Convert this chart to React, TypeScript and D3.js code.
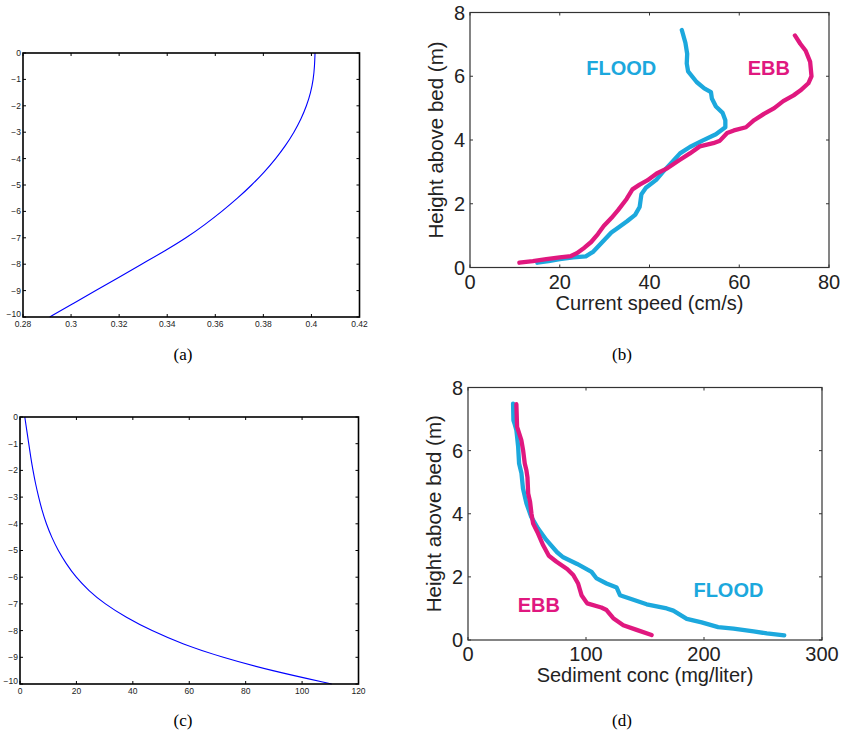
import React from "react";
import * as d3 from "d3";

// ---- model profiles (a) and (c): depth 0 .. -10 ----
const depthLevels = [0, -0.5, -1, -1.5, -2, -2.5, -3, -3.5, -4, -4.5, -5, -5.5, -6, -6.5, -7, -7.5, -8, -8.5, -9, -9.5, -10];
const speedModel = [0.4015, 0.4013, 0.4008, 0.3997, 0.398, 0.3957, 0.3928, 0.3893, 0.3852, 0.3805, 0.3752, 0.3693, 0.3628, 0.3557, 0.348, 0.339, 0.3293, 0.3198, 0.3103, 0.3007, 0.2911];
const concModel = [1.7, 2.4, 3.1, 3.8, 4.6, 5.5, 6.6, 7.8, 9.3, 11.2, 13.5, 16.4, 19.8, 24.3, 30, 37.5, 46.5, 57.5, 71.5, 89, 110.5];

const xTicksA = [0.28, 0.3, 0.32, 0.34, 0.36, 0.38, 0.4, 0.42];
const xTicksC = [0, 20, 40, 60, 80, 100, 120];
const depthTicks = [0, -1, -2, -3, -4, -5, -6, -7, -8, -9, -10];

// ---- measured profiles (b): current speed (cm/s) vs height (m) ----
const floodSpeed = [15, 17.5, 20, 23, 25.8, 27.5, 29.5, 31.5, 33, 35, 36.8, 37.8, 38.2, 39.2, 41.5, 43, 44.8, 46.8, 49, 51.8, 54.8, 56.9, 56.9, 56.3, 54.8, 53.9, 53.7, 52.2, 50.5, 48.6, 48.3, 48.4, 48, 47.2];
const floodSpeedZ = [0.15, 0.2, 0.26, 0.32, 0.35, 0.5, 0.8, 1.1, 1.25, 1.45, 1.65, 1.9, 2.3, 2.5, 2.75, 3.0, 3.27, 3.58, 3.78, 3.98, 4.18, 4.4, 4.62, 4.85, 5.05, 5.3, 5.5, 5.62, 5.82, 6.15, 6.4, 6.7, 7.05, 7.45];
const ebbSpeed = [11, 14, 17, 20, 22.5, 23.8, 25.5, 27, 28.5, 29.8, 31.5, 33, 34.9, 36.2, 37.8, 39.5, 41.6, 43.8, 46.7, 49, 51.2, 54.2, 55.7, 57.3, 58.8, 61.5, 63.3, 65.5, 67.8, 69.8, 72.1, 73.6, 75.4, 76.1, 75.8, 74.8, 73.6, 72.4];
const ebbSpeedZ = [0.15, 0.2, 0.26, 0.32, 0.36, 0.45, 0.62, 0.8, 1.05, 1.3, 1.55, 1.8, 2.15, 2.45, 2.6, 2.73, 2.95, 3.1, 3.37, 3.58, 3.8, 3.9, 3.98, 4.22, 4.3, 4.4, 4.62, 4.82, 5.0, 5.22, 5.4, 5.55, 5.78, 6.0, 6.45, 6.8, 7.02, 7.28];

// ---- measured profiles (d): sediment conc (mg/l) vs height (m) ----
const floodConc = [38.2, 38.5, 39.4, 41, 42.5, 43.3, 45.3, 46.6, 49.5, 53.6, 59.4, 66.4, 75.5, 80.7, 92.5, 104.7, 109, 117.4, 126, 128.8, 142, 151.4, 168.4, 174, 185.4, 198, 212, 225, 242, 253.3, 268];
const floodConcZ = [7.49, 6.96, 6.86, 6.65, 6.12, 5.59, 5.28, 4.8, 4.33, 3.9, 3.53, 3.17, 2.78, 2.62, 2.41, 2.16, 1.95, 1.79, 1.66, 1.42, 1.25, 1.13, 1.0, 0.93, 0.67, 0.56, 0.41, 0.36, 0.27, 0.21, 0.15];
const ebbConc = [41, 41.6, 45.2, 46.7, 48.1, 49.5, 50.4, 51, 52.6, 53.8, 55.2, 59.3, 63.7, 68.5, 75, 84, 89.2, 93.3, 96.2, 101, 113, 117.4, 123.1, 131.6, 142.9, 155.6];
const ebbConcZ = [7.47, 6.75, 6.33, 6.01, 5.59, 5.38, 5.15, 4.64, 4.38, 4.0, 3.69, 3.38, 3.0, 2.67, 2.48, 2.25, 2.06, 1.79, 1.42, 1.16, 1.03, 0.95, 0.69, 0.47, 0.32, 0.16];

const speedTicks = [0, 20, 40, 60, 80];
const concTicks = [0, 100, 200, 300];
const heightTicks = [0, 2, 4, 6, 8];

const SANS = "'Liberation Sans', Arial, Helvetica, sans-serif";
const SERIF = "'Liberation Serif', 'Times New Roman', serif";
const CYAN = "#1ca8dd";
const MAGENTA = "#e0187f";

type Box = { left: number; right: number; top: number; bottom: number };

function Frame({ box, x, y, xTicks, yTicks, tickLen, stroke, strokeWidth, fontSize, fmt, xLabelDy, yLabelDx, liftLast = 0 }: any) {
  const { left, right, top, bottom } = box;
  const yMin = d3.min(yTicks as number[]);
  return (
    <g>
      <rect x={left} y={top} width={right - left} height={bottom - top} fill="none" stroke={stroke} strokeWidth={strokeWidth} />
      {xTicks.map((t: number) => (
        <g key={"x" + t}>
          <line x1={x(t)} x2={x(t)} y1={bottom} y2={bottom - tickLen} stroke={stroke} strokeWidth={1} />
          <line x1={x(t)} x2={x(t)} y1={top} y2={top + tickLen} stroke={stroke} strokeWidth={1} />
          <text x={x(t)} y={bottom + xLabelDy} textAnchor="middle" fontSize={fontSize} fontFamily={SANS} fill="#222">{fmt(t)}</text>
        </g>
      ))}
      {yTicks.map((t: number) => (
        <g key={"y" + t}>
          <line x1={left} x2={left + tickLen} y1={y(t)} y2={y(t)} stroke={stroke} strokeWidth={1} />
          <line x1={right} x2={right - tickLen} y1={y(t)} y2={y(t)} stroke={stroke} strokeWidth={1} />
          <text x={left - yLabelDx} y={y(t) - (t === yMin ? liftLast : 0)} dy="0.35em" textAnchor="end" fontSize={fontSize} fontFamily={SANS} fill="#222">{fmt(t)}</text>
        </g>
      ))}
    </g>
  );
}

function ModelPanel({ box, xDomain, xTicks, xs }: { box: Box; xDomain: number[]; xTicks: number[]; xs: number[] }) {
  const x = d3.scaleLinear().domain(xDomain).range([box.left, box.right]);
  const y = d3.scaleLinear().domain([-10, 0]).range([box.bottom, box.top]);
  const pts = depthLevels.map((d, i) => [xs[i], d] as [number, number]);
  const line = d3.line<[number, number]>().x((p) => x(p[0])).y((p) => y(p[1])).curve(d3.curveBasis);
  return (
    <g>
      <path d={line(pts) || ""} fill="none" stroke="#0000ff" strokeWidth={1.1} />
      <Frame box={box} x={x} y={y} xTicks={xTicks} yTicks={depthTicks} tickLen={3} stroke="#000" strokeWidth={1.6}
        fontSize={8.5} fmt={d3.format("~g")} xLabelDy={10} yLabelDx={2} liftLast={3} />
    </g>
  );
}

function FieldPanel({ box, xMax, xTicks, xLabel, flood, ebb, floodPos, ebbPos }: any) {
  const x = d3.scaleLinear().domain([0, xMax]).range([box.left, box.right]);
  const y = d3.scaleLinear().domain([0, 8]).range([box.bottom, box.top]);
  const line = d3.line<[number, number]>().x((p) => x(p[0])).y((p) => y(p[1]));
  const cy = (box.top + box.bottom) / 2;
  return (
    <g>
      <Frame box={box} x={x} y={y} xTicks={xTicks} yTicks={heightTicks} tickLen={3} stroke="#333" strokeWidth={1.2}
        fontSize={20} fmt={d3.format("~g")} xLabelDy={21} yLabelDx={5} />
      <path d={line(flood) || ""} fill="none" stroke={CYAN} strokeWidth={4.3} strokeLinejoin="round" strokeLinecap="round" />
      <path d={line(ebb) || ""} fill="none" stroke={MAGENTA} strokeWidth={4.3} strokeLinejoin="round" strokeLinecap="round" />
      <text x={x(floodPos[0])} y={y(floodPos[1])} dy="0.36em" textAnchor="middle" fontSize={20} fontWeight="bold" fontFamily={SANS} fill={CYAN}>FLOOD</text>
      <text x={x(ebbPos[0])} y={y(ebbPos[1])} dy="0.36em" textAnchor="middle" fontSize={20} fontWeight="bold" fontFamily={SANS} fill={MAGENTA}>EBB</text>
      <text x={(box.left + box.right) / 2} y={box.bottom + 42} textAnchor="middle" fontSize={20} fontFamily={SANS} fill="#222">{xLabel}</text>
      <text transform={`translate(${box.left - 27},${cy}) rotate(-90)`} textAnchor="middle" fontSize={20.5} fontFamily={SANS} fill="#222">Height above bed (m)</text>
    </g>
  );
}

const zip = (a: number[], b: number[]) => a.map((v, i) => [v, b[i]] as [number, number]);

export default function App() {
  return (
    <svg width={846} height={742} style={{ position: "absolute", left: 0, top: 0, background: "#fff" }}>
      <rect width={846} height={742} fill="#fff" />
      <ModelPanel box={{ left: 23, right: 359.5, top: 53, bottom: 317 }} xDomain={[0.28, 0.42]} xTicks={xTicksA} xs={speedModel} />
      <ModelPanel box={{ left: 20, right: 358.5, top: 417, bottom: 684 }} xDomain={[0, 120]} xTicks={xTicksC} xs={concModel} />
      <FieldPanel box={{ left: 470, right: 829, top: 12.5, bottom: 267.5 }} xMax={80} xTicks={speedTicks}
        xLabel="Current speed (cm/s)" flood={zip(floodSpeed, floodSpeedZ)} ebb={zip(ebbSpeed, ebbSpeedZ)}
        floodPos={[33.7, 6.26]} ebbPos={[66.6, 6.26]} />
      <FieldPanel box={{ left: 468, right: 822, top: 387.5, bottom: 640 }} xMax={300} xTicks={concTicks}
        xLabel="Sediment conc (mg/liter)" flood={zip(floodConc, floodConcZ)} ebb={zip(ebbConc, ebbConcZ)}
        floodPos={[220.7, 1.58]} ebbPos={[60, 1.11]} />
      <text x={183} y={360} textAnchor="middle" fontSize={17} fontFamily={SERIF}>(a)</text>
      <text x={622} y={360} textAnchor="middle" fontSize={17} fontFamily={SERIF}>(b)</text>
      <text x={183} y={726} textAnchor="middle" fontSize={17} fontFamily={SERIF}>(c)</text>
      <text x={622} y={726} textAnchor="middle" fontSize={17} fontFamily={SERIF}>(d)</text>
    </svg>
  );
}
